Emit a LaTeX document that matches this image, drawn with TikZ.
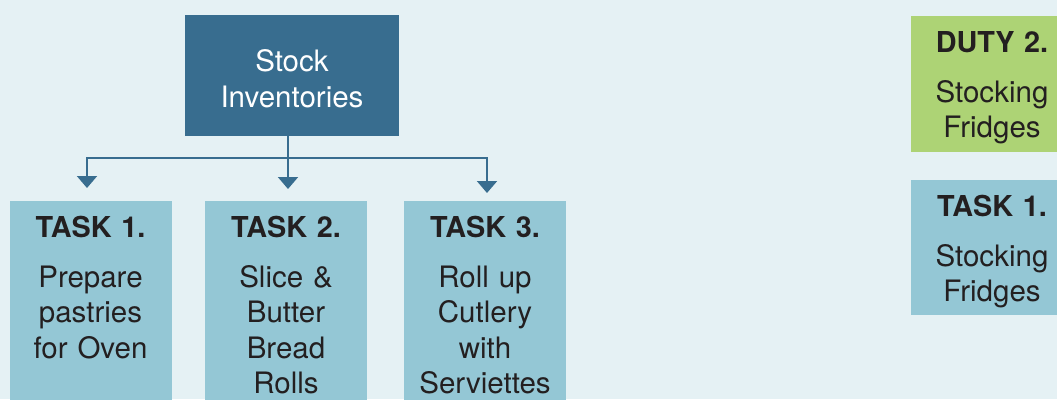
\documentclass[tikz,border=0pt]{standalone}
\usepackage{fontspec}
\setmainfont{TeX Gyre Heros}
\usetikzlibrary{positioning, arrows.meta}
\tikzstyle{chart} = [x = 1pt, y = -1pt]
\definecolor{backColor}{RGB}{229,241,244}
\definecolor{stockColor}{RGB}{56,109,143}
\definecolor{taskColor}{RGB}{148,199,213}
\definecolor{dutyColor}{RGB}{173,211,117}
\definecolor{inkColor}{RGB}{35,31,32}
\tikzstyle{boxStyle} = [anchor=north, minimum width=162pt, inner sep=0pt]
\tikzstyle{headText} = [font=\fontsize{28.8}{35}\selectfont\bfseries, text=inkColor, text width=162pt, align=center, inner sep=0pt]
\tikzstyle{bodyText} = [font=\fontsize{29.5}{35.5}\selectfont, text=inkColor, text width=162pt, align=center, inner sep=0pt]
\tikzstyle{stockText} = [bodyText, text=white, text width=214pt]
\tikzstyle{linkLine} = [color=stockColor, line width=2pt]
\tikzstyle{linkArrow} = [linkLine, -{Triangle[width=20pt, length=12pt]}]
% name, centre x, top y, height, fill, heading, body
\newcommand{\taskBox}[7]{
  \node [boxStyle, minimum height=#4pt, fill=#5] (#1) at (#2, #3) {};
  \node [headText, below=36pt of #1.north, anchor=base] (#1Head) {#6};
  \node [bodyText, below=50pt of #1Head.base, anchor=base] (#1Body) {#7};
}

\begin{document}
\begin{tikzpicture}[chart]
  \fill [backColor] (0,0) rectangle (1057,399);
  \useasboundingbox (0,0) rectangle (1057,399);
  \clip (0,0) rectangle (1057,399);

  \node [fill=stockColor, minimum width=214pt, minimum height=121pt, inner sep=0pt] (stock) at (292, 75.5) {};
  \node [stockText, below=57pt of stock.north, anchor=base] (stockLabel) {Stock\\Inventories};

  \taskBox{taskOne}{90.5}{201}{240}{taskColor}{TASK 1.}{Prepare\\pastries\\for Oven}
  \taskBox{taskTwo}{286}{201}{240}{taskColor}{TASK 2.}{Slice \&\\Butter\\Bread\\Rolls}
  \taskBox{taskThree}{485}{201}{240}{taskColor}{TASK 3.}{Roll up\\Cutlery\\with\\Serviettes}

  \taskBox{duty}{992}{16}{136}{dutyColor}{DUTY 2.}{Stocking\\Fridges}
  \taskBox{sideTask}{992}{180}{135}{taskColor}{TASK 1.}{Stocking\\Fridges}

  % branches from the stock box down to the tasks
  \coordinate (split) at (288, 158);
  \coordinate (tipOne) at (87, 188);
  \coordinate (tipTwo) at (288, 189);
  \coordinate (tipThree) at (487, 193);
  \draw [linkLine] (stock.south -| split) -- (split);
  \draw [linkArrow] (split) -| (tipOne);
  \draw [linkArrow] (split) -- (tipTwo);
  \draw [linkArrow] (split) -| (tipThree);
\end{tikzpicture}
\end{document}
